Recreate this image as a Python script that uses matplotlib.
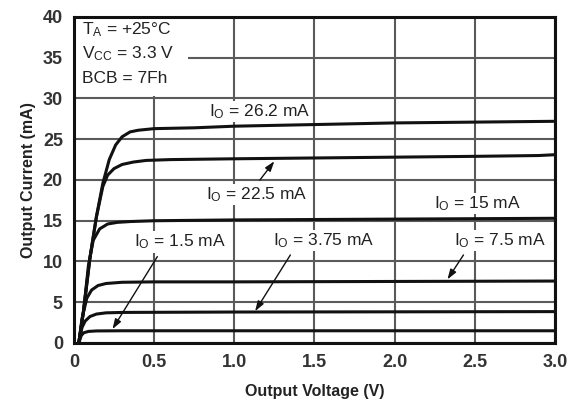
import matplotlib
matplotlib.use('Agg')
import matplotlib.pyplot as plt

plt.rcParams['font.family'] = ['Liberation Sans', 'DejaVu Sans']
plt.rcParams['mathtext.default'] = 'regular'

# curves: output voltage (V) vs output current (mA)
v_262 = [0.03, 0.06, 0.10, 0.14, 0.18, 0.22, 0.26, 0.30, 0.35, 0.40, 0.50, 0.75, 1.0, 1.5, 2.0, 2.5, 3.0]
i_262 = [0, 4.0, 10.5, 15.5, 19.6, 22.5, 24.3, 25.3, 25.9, 26.1, 26.3, 26.4, 26.6, 26.8, 27.0, 27.1, 27.2]

v_225 = [0.03, 0.06, 0.10, 0.14, 0.18, 0.21, 0.25, 0.30, 0.37, 0.45, 0.6, 1.0, 1.5, 2.0, 2.5, 2.9, 3.0]
i_225 = [0, 4.0, 10.5, 15.5, 19.2, 20.6, 21.4, 21.9, 22.2, 22.4, 22.5, 22.6, 22.7, 22.8, 22.9, 23.0, 23.1]

v_15 = [0.03, 0.06, 0.09, 0.12, 0.16, 0.21, 0.27, 0.35, 0.5, 1.0, 2.0, 3.0]
i_15 = [0, 4.0, 9.5, 12.6, 14.0, 14.6, 14.8, 14.9, 15.0, 15.1, 15.2, 15.3]

v_75 = [0.03, 0.05, 0.08, 0.11, 0.15, 0.2, 0.3, 0.5, 1.0, 3.0]
i_75 = [0, 3.0, 5.5, 6.5, 7.05, 7.3, 7.45, 7.5, 7.5, 7.6]

v_375 = [0.03, 0.05, 0.07, 0.10, 0.14, 0.2, 0.3, 1.0, 3.0]
i_375 = [0, 1.9, 2.7, 3.25, 3.55, 3.7, 3.75, 3.8, 3.85]

v_15b = [0.03, 0.045, 0.06, 0.09, 0.14, 0.3, 3.0]
i_15b = [0, 0.9, 1.25, 1.42, 1.48, 1.5, 1.5]

curves = [(v_262, i_262), (v_225, i_225), (v_15, i_15),
          (v_75, i_75), (v_375, i_375), (v_15b, i_15b)]

x_ticks = [0, 0.5, 1.0, 1.5, 2.0, 2.5, 3.0]
x_tick_labels = ['0', '0.5', '1.0', '1.5', '2.0', '2.5', '3.0']
y_ticks = [0, 5, 10, 15, 20, 25, 30, 35, 40]

fig = plt.figure(figsize=(5.67, 4.04), dpi=100)
ax = fig.add_axes([0.1305, 0.151, 0.848, 0.807])

for v, i in curves:
    ax.plot(v, i, color='#111111', lw=2.2, zorder=4, solid_capstyle='round')

ax.set_xlim(0, 3.0)
ax.set_ylim(0, 40)
ax.set_xticks(x_ticks)
ax.set_xticklabels(x_tick_labels)
ax.set_yticks(y_ticks)
ax.tick_params(length=0, labelsize=13, labelcolor='#333333', pad=8)
for lab in ax.get_xticklabels() + ax.get_yticklabels():
    lab.set_fontweight('bold')
ax.grid(True, color='#5a5a5a', lw=1.5)
ax.set_axisbelow(True)
for s in ax.spines.values():
    s.set_linewidth(2.2)
    s.set_color('#111111')

ax.set_xlabel('Output Voltage (V)', fontsize=11.5, fontweight='bold', color='#222222', labelpad=9)
ax.set_ylabel('Output Current (mA)', fontsize=11.5, fontweight='bold', color='#222222', labelpad=5)

# white area behind the conditions block
ax.fill_between([0.01, 0.71], 30.25, 39.9, color='white', zorder=2, lw=0)
txt = dict(fontsize=12.5, color='#222222', zorder=5)
ax.text(0.05, 38.5, 'T$_{A}$ = +25°C', va='center', **txt)
ax.text(0.05, 35.5, 'V$_{CC}$ = 3.3 V', va='center', **txt)
ax.text(0.05, 32.5, 'BCB = 7Fh', va='center', **txt)

box = dict(facecolor='white', edgecolor='none', pad=1.0)
ax.text(1.16, 28.4, 'I$_{O}$ = 26.2 mA', ha='center', va='center', bbox=box, **txt)
ax.text(2.52, 17.1, 'I$_{O}$ = 15 mA', ha='center', va='center', bbox=box, **txt)

arrow = dict(arrowstyle='-|>,head_length=0.6,head_width=0.2', color='#111111', lw=1.0, shrinkA=0, shrinkB=0)
labels = ['I$_{O}$ = 22.5 mA', 'I$_{O}$ = 1.5 mA', 'I$_{O}$ = 3.75 mA', 'I$_{O}$ = 7.5 mA']
label_xy = [(1.14, 18.2), (0.66, 12.4), (1.56, 12.6), (2.66, 12.6)]
tail_xy = [(1.16, 20.0), (0.52, 10.6), (1.35, 10.8), (2.43, 10.8)]
head_xy = [(1.25, 22.3), (0.24, 1.7), (1.13, 3.9), (2.33, 7.8)]
for lab, lxy, t, h in zip(labels, label_xy, tail_xy, head_xy):
    ax.text(lxy[0], lxy[1], lab, ha='center', va='center', bbox=box, **txt)
    ax.annotate('', xy=h, xytext=t, arrowprops=arrow, zorder=5)

fig.savefig('out.png', dpi=100)
